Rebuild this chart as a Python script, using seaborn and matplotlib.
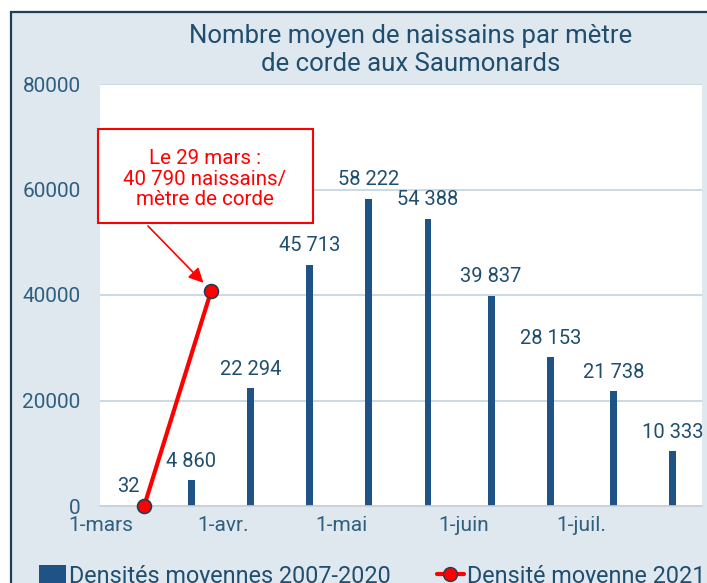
import numpy as np
import pandas as pd
import matplotlib
matplotlib.use("Agg")
import matplotlib.pyplot as plt
from matplotlib.patches import Rectangle, Patch
from matplotlib.lines import Line2D
import seaborn as sns

# ---- data ----
origin = "2021-03-01"
bar_dates = ["2021-03-08", "2021-03-24", "2021-04-08", "2021-04-23", "2021-05-08",
             "2021-05-23", "2021-06-08", "2021-06-23", "2021-07-09", "2021-07-24"]
bar_values = [32, 4860, 22294, 45713, 58222, 54388, 39837, 28153, 21738, 10333]
line_dates = ["2021-03-12", "2021-03-29"]
line_values = [0, 40790]
tick_dates = ["2021-03-01", "2021-04-01", "2021-05-01", "2021-06-01", "2021-07-01"]
tick_labels = ["1-mars", "1-avr.", "1-mai", "1-juin", "1-juil."]
y_ticks = [0, 20000, 40000, 60000, 80000]
title = "Nombre moyen de naissains par mètre\nde corde aux Saumonards"
annot_text = "Le 29 mars :\n40 790 naissains/\nmètre de corde"
legend_labels = ["Densités moyennes 2007-2020", "Densité moyenne 2021"]

def days(ds):
    return list((pd.to_datetime(ds) - pd.Timestamp(origin)).days)

bars_df = pd.DataFrame({"jour": days(bar_dates), "densite": bar_values})
line_df = pd.DataFrame({"jour": days(line_dates), "densite": line_values})

# ---- style ----
BG = "#dfe8ef"
BAR = "#1f5285"
TXT = "#1f4e6e"
TICK = "#2f5f7f"
RED = "#ff0000"
W, H = 707, 583

sns.set_style("white")
plt.rcParams["font.family"] = ["Roboto", "DejaVu Sans"]

fig = plt.figure(figsize=(W / 100, H / 100), dpi=100, facecolor="white")
fig.patches.append(Rectangle((11 / W, -0.1), 1.2, 1 - 12 / H + 0.1,
                             transform=fig.transFigure, facecolor=BG,
                             edgecolor="#1d3f57", linewidth=1.6, zorder=-1))

ax = fig.add_axes([100 / W, (H - 506) / H, (702 - 100) / W, (506 - 84) / H])
ax.set_facecolor("white")

sns.barplot(data=bars_df, x="jour", y="densite", native_scale=True,
            color=BAR, saturation=1, width=0.117, errorbar=None, ax=ax)
for p in ax.patches:
    p.set_edgecolor("none")

labels = [f"{v:,}".replace(",", " ") for v in bar_values]
ax.bar_label(ax.containers[0], labels=labels, padding=7, fontsize=14.5,
             color=TXT, clip_on=False)

sns.lineplot(data=line_df, x="jour", y="densite", color=RED, linewidth=3,
             marker="o", markersize=10, markerfacecolor=RED,
             markeredgecolor="#1d3f57", markeredgewidth=1.2, ax=ax, zorder=5)
for ln in ax.lines:
    ln.set_clip_on(False)

ax.set_xlim(-0.2, 152.5)
ax.set_ylim(0, 80000)
ax.set_yticks(y_ticks)
ax.set_yticklabels([str(v) for v in y_ticks])
ax.set_xticks(days(tick_dates))
ax.set_xticklabels(tick_labels)
ax.tick_params(axis="y", length=0, pad=14, labelsize=15, labelcolor=TICK)
ax.tick_params(axis="x", length=0, pad=7, labelsize=15, labelcolor=TICK)
ax.set_xlabel("")
ax.set_ylabel("")
ax.grid(axis="y", color="#c2d3de", linewidth=1.2)
ax.set_axisbelow(True)
for s in ["top", "right", "left"]:
    ax.spines[s].set_visible(False)
ax.spines["bottom"].set_color("#c9d1d6")
ax.spines["bottom"].set_linewidth(1.2)

# title
fig.text(411 / W, 1 - 50 / H, title, ha="center", va="center", fontsize=18.5,
         color=TXT, linespacing=1.22)

# annotation box
fig.patches.append(Rectangle((98 / W, 1 - 223 / H), 215 / W, 94 / H,
                             transform=fig.transFigure, facecolor="white",
                             edgecolor=RED, linewidth=1.5, zorder=3))
fig.text(205 / W, 1 - 179 / H, annot_text, ha="center", va="center",
         fontsize=14.8, color=RED, linespacing=1.12, zorder=4)
ax.annotate("", xy=(line_df["jour"][1], line_df["densite"][1]), xycoords="data",
            xytext=(148, H - 226), textcoords="figure pixels",
            arrowprops=dict(arrowstyle="-|>", color=RED, lw=1.2,
                            mutation_scale=22, shrinkA=0, shrinkB=8),
            annotation_clip=False)

# legend
handles = [Patch(facecolor=BAR, edgecolor="none"),
           Line2D([0], [0], color=RED, lw=3, marker="o", markersize=10,
                  markerfacecolor=RED, markeredgecolor="#1d3f57")]
fig.legend(handles, legend_labels, loc="center left",
           bbox_to_anchor=(39 / W, 7 / H), ncol=2, frameon=False,
           fontsize=16.8, labelcolor=TXT, handlelength=1.15, handleheight=0.8,
           handletextpad=0.12, columnspacing=2.0, borderpad=0, borderaxespad=0)

fig.savefig("out.png", dpi=100, facecolor="white")
